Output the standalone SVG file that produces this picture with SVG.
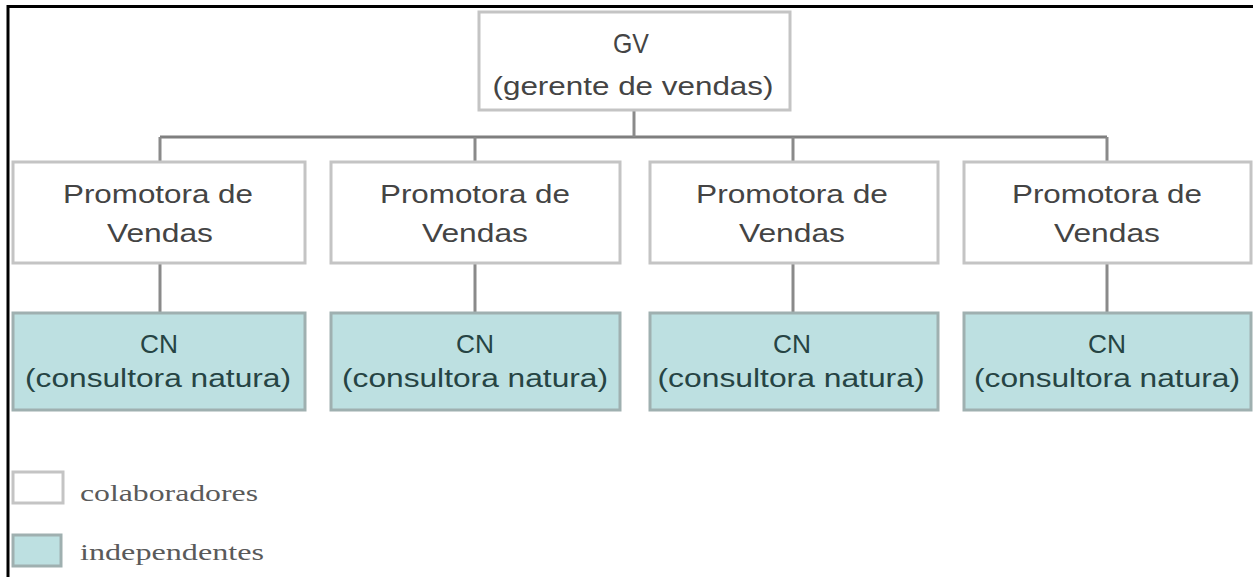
<svg xmlns="http://www.w3.org/2000/svg" width="1253" height="577" viewBox="0 0 1253 577">
<style>
.box{fill:#ffffff;stroke:#c4c4c4;stroke-width:3}
.cn{fill:#bde0e1;stroke:#9fb0b0;stroke-width:3}
.t{font-family:"Liberation Sans",Arial,sans-serif;font-size:25px;fill:#444444;text-anchor:middle}
.tc{font-family:"Liberation Sans",Arial,sans-serif;font-size:25px;fill:#264444;text-anchor:middle}
.lg{font-family:"Liberation Serif","Times New Roman",serif;font-size:24px;fill:#5a5a5a}
.conn{stroke:#7f7f7f;stroke-width:3;fill:none}
.stem{stroke:#8a8a8a;stroke-width:3;fill:none}
</style>
<rect width="1253" height="577" fill="#ffffff"/>
<path d="M8 577 V6.5 H1253" stroke="#000" stroke-width="3" fill="none"/>
<g id="connectors">
<path class="conn" d="M160 137 H1107"/>
<path class="stem" d="M634 110 V137"/>
<path class="stem" d="M160 137 V162 M475 137 V162 M793 137 V162 M1107 137 V162"/>
<path class="stem" d="M160 263 V313 M475 263 V313 M793 263 V313 M1107 263 V313"/>
</g>
<g id="gv"><rect class="box" x="479" y="12" width="311" height="98"/><text class="t" x="631" y="53" style="font-size:28px" textLength="36" lengthAdjust="spacingAndGlyphs">GV</text><text class="t" x="633" y="95" textLength="281" lengthAdjust="spacingAndGlyphs">(gerente de vendas)</text></g>
<g id="pv1"><rect class="box" x="13" y="162" width="292" height="101"/><text class="t" x="158" y="203" textLength="190" lengthAdjust="spacingAndGlyphs">Promotora de</text><text class="t" x="160" y="242" textLength="106" lengthAdjust="spacingAndGlyphs">Vendas</text></g>
<g id="pv2"><rect class="box" x="331" y="162" width="289" height="101"/><text class="t" x="475" y="203" textLength="190" lengthAdjust="spacingAndGlyphs">Promotora de</text><text class="t" x="475" y="242" textLength="106" lengthAdjust="spacingAndGlyphs">Vendas</text></g>
<g id="pv3"><rect class="box" x="650" y="162" width="288" height="101"/><text class="t" x="792" y="203" textLength="192" lengthAdjust="spacingAndGlyphs">Promotora de</text><text class="t" x="792" y="242" textLength="106" lengthAdjust="spacingAndGlyphs">Vendas</text></g>
<g id="pv4"><rect class="box" x="964" y="162" width="287" height="101"/><text class="t" x="1107" y="203" textLength="190" lengthAdjust="spacingAndGlyphs">Promotora de</text><text class="t" x="1107" y="242" textLength="106" lengthAdjust="spacingAndGlyphs">Vendas</text></g>
<g id="cn1"><rect class="cn" x="13" y="313" width="292" height="97"/><text class="tc" x="159" y="353" textLength="38" lengthAdjust="spacingAndGlyphs">CN</text><text class="tc" x="158" y="387" textLength="266" lengthAdjust="spacingAndGlyphs">(consultora natura)</text></g>
<g id="cn2"><rect class="cn" x="331" y="313" width="289" height="97"/><text class="tc" x="475" y="353" textLength="38" lengthAdjust="spacingAndGlyphs">CN</text><text class="tc" x="475" y="387" textLength="266" lengthAdjust="spacingAndGlyphs">(consultora natura)</text></g>
<g id="cn3"><rect class="cn" x="650" y="313" width="288" height="97"/><text class="tc" x="792" y="353" textLength="38" lengthAdjust="spacingAndGlyphs">CN</text><text class="tc" x="791" y="387" textLength="267" lengthAdjust="spacingAndGlyphs">(consultora natura)</text></g>
<g id="cn4"><rect class="cn" x="964" y="313" width="287" height="97"/><text class="tc" x="1107" y="353" textLength="38" lengthAdjust="spacingAndGlyphs">CN</text><text class="tc" x="1107" y="387" textLength="266" lengthAdjust="spacingAndGlyphs">(consultora natura)</text></g>
<g id="legend">
<rect class="box" x="13" y="472" width="50" height="31"/>
<text class="lg" x="80" y="501" textLength="178" lengthAdjust="spacingAndGlyphs">colaboradores</text>
<rect class="cn" x="13" y="535" width="48" height="31"/>
<text class="lg" x="80" y="560" textLength="184" lengthAdjust="spacingAndGlyphs">independentes</text>
</g>
</svg>
